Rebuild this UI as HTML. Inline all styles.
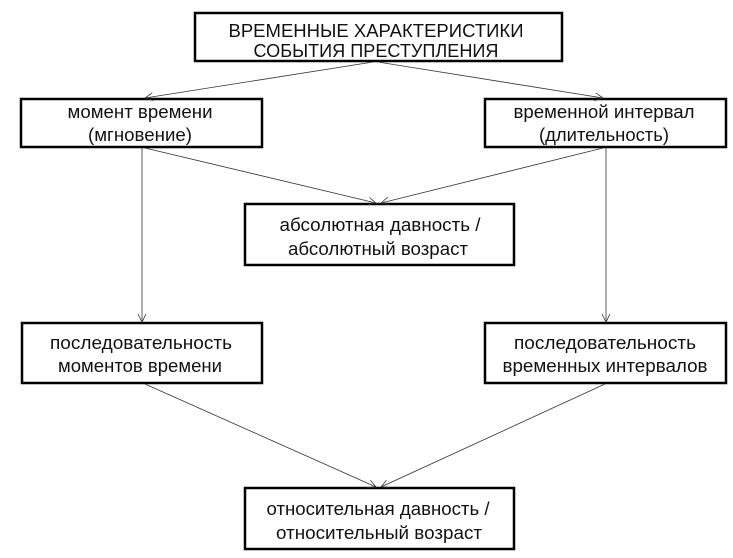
<!DOCTYPE html>
<html><head><meta charset="utf-8"><style>
html,body{margin:0;padding:0;background:#fff;}
svg{display:block;}
text{font-family:"Liberation Sans",sans-serif;font-size:18px;fill:#111;}
</style></head><body>
<svg width="733" height="558" viewBox="0 0 733 558" xmlns="http://www.w3.org/2000/svg">
<defs><marker id="a" markerWidth="10" markerHeight="10" refX="8" refY="4" orient="auto" markerUnits="userSpaceOnUse"><path d="M0,0 L8,4 L0,8" fill="none" stroke="#333" stroke-width="0.8"/></marker></defs>
<g fill="#fff" stroke="#000" stroke-width="2.5">
<rect x="195" y="13" width="367" height="48"/>
<rect x="21" y="99" width="241" height="48"/>
<rect x="485" y="99" width="241" height="48"/>
<rect x="245" y="204" width="269" height="61"/>
<rect x="22" y="323" width="240" height="60"/>
<rect x="485" y="323" width="241" height="60"/>
<rect x="245" y="488" width="269" height="61"/>
</g>
<g stroke="#333" stroke-width="0.8" fill="none" marker-end="url(#a)">
<line x1="373" y1="62" x2="145" y2="98"/>
<line x1="378" y1="62" x2="603" y2="98"/>
<line x1="145" y1="148" x2="376" y2="203"/>
<line x1="603" y1="148" x2="381" y2="203"/>
<line x1="142" y1="148" x2="142" y2="322"/>
<line x1="606" y1="148" x2="606" y2="322"/>
<line x1="145" y1="384" x2="376" y2="487"/>
<line x1="605" y1="384" x2="381" y2="487"/>
</g>
<g text-anchor="middle">
<text x="376" y="37" font-size="19" textLength="295" lengthAdjust="spacingAndGlyphs">ВРЕМЕННЫЕ ХАРАКТЕРИСТИКИ</text>
<text x="376" y="57" font-size="19" textLength="245" lengthAdjust="spacingAndGlyphs">СОБЫТИЯ ПРЕСТУПЛЕНИЯ</text>
<text x="140" y="118" textLength="145" lengthAdjust="spacingAndGlyphs">момент времени</text>
<text x="140" y="141" textLength="104" lengthAdjust="spacingAndGlyphs">(мгновение)</text>
<text x="604" y="118" textLength="181" lengthAdjust="spacingAndGlyphs">временной интервал</text>
<text x="604" y="141" textLength="130" lengthAdjust="spacingAndGlyphs">(длительность)</text>
<text x="380" y="231" textLength="201" lengthAdjust="spacingAndGlyphs">абсолютная давность /</text>
<text x="378" y="255" textLength="180" lengthAdjust="spacingAndGlyphs">абсолютный возраст</text>
<text x="141" y="349" textLength="182" lengthAdjust="spacingAndGlyphs">последовательность</text>
<text x="140" y="372" textLength="164" lengthAdjust="spacingAndGlyphs">моментов времени</text>
<text x="605" y="349" textLength="182" lengthAdjust="spacingAndGlyphs">последовательность</text>
<text x="605" y="372" textLength="205" lengthAdjust="spacingAndGlyphs">временных интервалов</text>
<text x="378" y="515" textLength="223" lengthAdjust="spacingAndGlyphs">относительная давность /</text>
<text x="379" y="539" textLength="206" lengthAdjust="spacingAndGlyphs">относительный возраст</text>
</g>
</svg>
</body></html>
